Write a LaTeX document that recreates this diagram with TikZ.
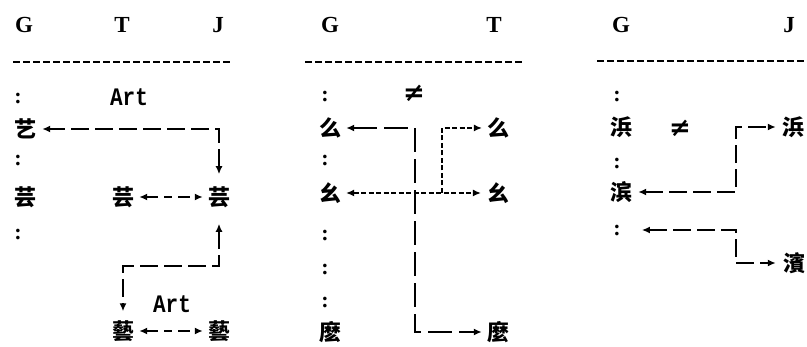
\documentclass[tikz,border=0pt]{standalone}
\usepackage{fontspec}
\newfontfamily\cjk{Noto Sans CJK SC}
\newfontfamily\monofam{Liberation Mono}
\newfontfamily\serif{Liberation Serif}
\newfontfamily\dejavu{DejaVu Sans}
\usetikzlibrary{arrows.meta}
\begin{document}
\begin{tikzpicture}[x=1pt,y=-1pt,
  >={Latex[length=8pt,width=7pt]},
  hd/.style={font=\serif\bfseries\fontsize{23}{23}\selectfont, inner sep=0pt},
  ch/.style={font=\cjk\bfseries\fontsize{22}{22}\selectfont, inner sep=1pt},
  col/.style={font=\serif\bfseries\fontsize{22}{22}\selectfont, inner sep=1pt},
  lbl/.style={font=\monofam\bfseries\fontsize{21}{21}\selectfont, inner sep=0pt},
  neq/.style={font=\dejavu\bfseries\fontsize{26}{26}\selectfont, inner sep=0pt},
  rulestyle/.style={line width=2.3pt, dash pattern=on 7pt off 3pt},
  link/.style={line width=2pt, dash pattern=on 18pt off 6pt},
  pair/.style={line width=2pt, dash pattern=on 12pt off 6pt on 8pt off 6pt},
  thinlink/.style={line width=1.1pt, dash pattern=on 5pt off 2.5pt},
]
\useasboundingbox (0,0) rectangle (807,347);

% ---------- panel 1 ----------
\node[hd] (g1) at (24,25) {G};
\node[hd] (t1) at (122,25) {T};
\node[hd] (j1) at (218,25) {J};
\coordinate (r1a) at (13,62); \coordinate (r1b) at (232,62);
\draw[rulestyle] (r1a) -- (r1b);
\node[col] (cA1) at (18,99) {:};
\node[lbl] (artA) at (129,97) {\scalebox{1}[1.2]{Art}};
\node[ch] (yi) at (26,129) {艺};
\node[col] (cA2) at (18,161) {:};
\node[ch] (yunG) at (26,197) {芸};
\node[ch] (yunT) at (123,197) {芸};
\node[ch] (yunJ) at (219,197) {芸};
\node[col] (cA3) at (18,235) {:};
\node[lbl] (artB) at (172,304) {\scalebox{1}[1.2]{Art}};
\node[ch] (yiT) at (123,331) {藝};
\node[ch] (yiJ) at (219,331) {藝};
\coordinate (k1) at (219,129);
\coordinate (k2) at (219,266);
\coordinate (k3) at (123,266);
\draw[link,<->,shorten <=11pt,shorten >=4pt] (yunJ.north) -- (k1) -- (yi);
\draw[pair,<->,shorten <=4pt,shorten >=4pt] (yunT) -- (yunJ);
\draw[link,<->,shorten <=15pt,shorten >=8pt] (yunJ.south) -- (k2) -- (k3) -- (yiT.north);
\draw[pair,<->,shorten <=4pt,shorten >=4pt] (yiT) -- (yiJ);

% ---------- panel 2 ----------
\node[hd] (g2) at (330,25) {G};
\node[hd] (t2) at (494,25) {T};
\coordinate (r2a) at (305,62); \coordinate (r2b) at (524,62);
\draw[rulestyle] (r2a) -- (r2b);
\node[col] (cB1) at (325,97) {:};
\node[neq] (neB) at (414,93) {≠};
\node[ch] (yaoG) at (330,128) {么};
\node[ch] (yaoT) at (498,128) {么};
\node[col] (cB2) at (325,161) {:};
\node[ch] (youG) at (330,193) {幺};
\node[ch] (youT) at (498,193) {幺};
\node[col] (cB3) at (325,236) {:};
\node[col] (cB4) at (325,270) {:};
\node[col] (cB5) at (325,303) {:};
\node[ch] (moG) at (330,332) {麽};
\node[ch] (moT) at (498,332) {麼};
\coordinate (m1) at (415,128);
\coordinate (m2) at (415,332);
\coordinate (n1) at (442,128);
\coordinate (n2) at (442,193);
\draw[link,<->,dash pattern=on 24pt off 7pt,shorten <=4pt,shorten >=4pt] (yaoG) -- (m1) -- (m2) -- (moT);
\draw[thinlink,->,shorten >=4pt] (n2) -- (n1) -- (yaoT);
\draw[thinlink,<->,shorten <=4pt,shorten >=5pt] (youG) -- (youT);

% ---------- panel 3 ----------
\node[hd] (g3) at (621,25) {G};
\node[hd] (j3) at (789,25) {J};
\coordinate (r3a) at (597,61); \coordinate (r3b) at (807,61);
\draw[rulestyle] (r3a) -- (r3b);
\node[col] (cC1) at (617,97) {:};
\node[ch] (binG) at (621,127) {浜};
\node[neq] (neC) at (680,128) {≠};
\node[ch] (binJ) at (793,127) {浜};
\node[col] (cC2) at (617,164) {:};
\node[ch] (bin2G) at (621,192) {滨};
\node[col] (cC3) at (617,231) {:};
\node[ch] (bin3J) at (794,263) {濱};
\coordinate (p1) at (736,127);
\coordinate (p2) at (736,192);
\coordinate (q1) at (736,230);
\coordinate (q2) at (736,263);
\draw[link,<->,shorten <=5pt,shorten >=5pt] (bin2G) -- (p2) -- (p1) -- (binJ);
\draw[link,<->,shorten <=20pt,shorten >=6pt] (cC3.east |- q1) -- (q1) -- (q2) -- (bin3J);
\end{tikzpicture}
\end{document}
